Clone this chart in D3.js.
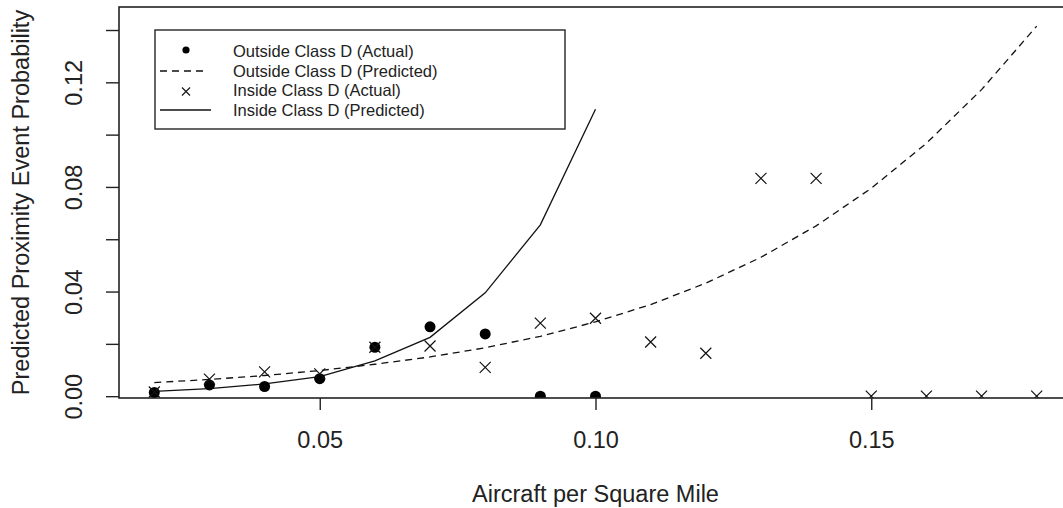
<!DOCTYPE html>
<html>
<head>
<meta charset="utf-8">
<script src="https://cdn.jsdelivr.net/npm/d3@7"></script>
<style>
  body { margin: 0; background: #fff; }
  svg { display: block; font-family: "Liberation Sans", Arial, sans-serif; }
</style>
</head>
<body>
<svg width="1063" height="508"></svg>
<script>
const svg = d3.select("svg");

// aircraft per square mile
const xOutside = [0.02, 0.03, 0.04, 0.05, 0.06, 0.07, 0.08, 0.09, 0.10];
const xInside = [0.02, 0.03, 0.04, 0.05, 0.06, 0.07, 0.08, 0.09, 0.10,
  0.11, 0.12, 0.13, 0.14, 0.15, 0.16, 0.17, 0.18];
const xOutsidePred = xInside;
const xInsidePred = xOutside;

const outsideActual = [0.0014, 0.0043, 0.0037, 0.0067, 0.0187, 0.0265, 0.0238, 0, 0];
const outsidePredicted = [0.0052, 0.0064, 0.0079, 0.0098, 0.0122, 0.0150, 0.0185, 0.0229,
  0.0284, 0.0350, 0.0432, 0.0531, 0.0651, 0.0795, 0.0967, 0.1172, 0.1415];
const insideActual = [0.0016, 0.0065, 0.0093, 0.0085, 0.0187, 0.0192, 0.0110, 0.0279,
  0.0298, 0.0207, 0.0164, 0.0833, 0.0833, 0, 0, 0, 0];
const insidePredicted = [0.0018, 0.0029, 0.0047, 0.0075, 0.0135, 0.0225, 0.0395, 0.0655, 0.1097];

const xTicks = [0.05, 0.10, 0.15];
const yTicks = [0, 0.02, 0.04, 0.06, 0.08, 0.10, 0.12, 0.14];
const yTickLabels = [0, 0.04, 0.08, 0.12];

const legendLabels = [
  "Outside Class D (Actual)",
  "Outside Class D (Predicted)",
  "Inside Class D (Actual)",
  "Inside Class D (Predicted)"
];

const box = { left: 119, right: 1072, top: 7, bottom: 398 };

const x = d3.scaleLinear().domain([0.0136, 0.1864]).range([box.left, box.right]);
const y = d3.scaleLinear().domain([-0.0007, 0.1488]).range([box.bottom, box.top]);

svg.append("defs").append("clipPath").attr("id", "plotclip")
  .append("rect")
  .attr("x", box.left).attr("y", box.top)
  .attr("width", box.right - box.left).attr("height", box.bottom - box.top);

const plot = svg.append("g").attr("clip-path", "url(#plotclip)");

// curves
const line = d3.line().x(d => x(d[0])).y(d => y(d[1]));

plot.append("path")
  .datum(d3.zip(xOutsidePred, outsidePredicted))
  .attr("d", line)
  .attr("fill", "none")
  .attr("stroke", "#111")
  .attr("stroke-width", 1.3)
  .attr("stroke-dasharray", "7,5");

plot.append("path")
  .datum(d3.zip(xInsidePred, insidePredicted))
  .attr("d", line)
  .attr("fill", "none")
  .attr("stroke", "#111")
  .attr("stroke-width", 1.3);

// points
plot.selectAll("circle.out")
  .data(d3.zip(xOutside, outsideActual))
  .enter()
  .append("circle")
  .attr("class", "out")
  .attr("cx", d => x(d[0]))
  .attr("cy", d => y(d[1]))
  .attr("r", 5.5)
  .attr("fill", "#000");

const cross = 5.5;
plot.selectAll("path.in")
  .data(d3.zip(xInside, insideActual))
  .enter()
  .append("path")
  .attr("class", "in")
  .attr("d", d => {
    const cx = x(d[0]), cy = y(d[1]);
    return `M${cx - cross},${cy - cross}L${cx + cross},${cy + cross}M${cx - cross},${cy + cross}L${cx + cross},${cy - cross}`;
  })
  .attr("stroke", "#111")
  .attr("stroke-width", 1.2)
  .attr("fill", "none");

// box
svg.append("rect")
  .attr("x", box.left).attr("y", box.top)
  .attr("width", box.right - box.left).attr("height", box.bottom - box.top)
  .attr("fill", "none")
  .attr("stroke", "#222")
  .attr("stroke-width", 1.6);

// axes
const xAxis = d3.axisBottom(x).tickValues(xTicks).tickSize(12).tickPadding(21)
  .tickFormat(d3.format(".2f"));
const gx = svg.append("g").attr("transform", `translate(0,${box.bottom})`).call(xAxis);
gx.select(".domain").remove();
gx.selectAll(".tick line").attr("stroke", "#222").attr("stroke-width", 1.4);
gx.selectAll(".tick text").attr("font-size", 23.5).attr("fill", "#222")
  .attr("font-family", "Liberation Sans, Arial, sans-serif");

const yAxis = d3.axisLeft(y).tickValues(yTicks).tickSize(13)
  .tickFormat(d => yTickLabels.includes(d) ? d3.format(".2f")(d) : "");
const gy = svg.append("g").attr("transform", `translate(${box.left},0)`).call(yAxis);
gy.select(".domain").remove();
gy.selectAll(".tick line").attr("stroke", "#222").attr("stroke-width", 1.4);
gy.selectAll(".tick text")
  .attr("font-size", 23.5).attr("fill", "#222")
  .attr("font-family", "Liberation Sans, Arial, sans-serif")
  .attr("x", 0).attr("dy", null)
  .attr("text-anchor", "middle")
  .attr("transform", "translate(-37,0) rotate(-90)");

// titles
svg.append("text")
  .attr("x", (box.left + box.right) / 2)
  .attr("y", 502)
  .attr("text-anchor", "middle")
  .attr("font-size", 23.5)
  .attr("fill", "#222")
  .text("Aircraft per Square Mile");

svg.append("text")
  .attr("transform", `translate(29,${(box.top + box.bottom) / 2}) rotate(-90)`)
  .attr("text-anchor", "middle")
  .attr("font-size", 23.5)
  .attr("fill", "#222")
  .text("Predicted Proximity Event Probability");

// legend
const legend = svg.append("g");
legend.append("rect")
  .attr("x", 155).attr("y", 30).attr("width", 410).attr("height", 99)
  .attr("fill", "#fff").attr("stroke", "#333").attr("stroke-width", 1.5);

const legendY = d3.scalePoint().domain(legendLabels).range([51.5, 110]);

legend.selectAll("text")
  .data(legendLabels)
  .enter()
  .append("text")
  .attr("x", 233)
  .attr("y", d => legendY(d))
  .attr("dy", "0.35em")
  .attr("font-size", 16.5)
  .attr("fill", "#222")
  .text(d => d);

legend.append("circle")
  .attr("cx", 186).attr("cy", legendY(legendLabels[0]) - 1.5).attr("r", 3.6).attr("fill", "#000");
legend.append("line")
  .attr("x1", 160).attr("x2", 207)
  .attr("y1", legendY(legendLabels[1])).attr("y2", legendY(legendLabels[1]))
  .attr("stroke", "#111").attr("stroke-width", 1.3).attr("stroke-dasharray", "7,5");
const ly = legendY(legendLabels[2]) + 1;
legend.append("path")
  .attr("d", `M182,${ly - 4}L190,${ly + 4}M182,${ly + 4}L190,${ly - 4}`)
  .attr("stroke", "#111").attr("stroke-width", 1.1);
legend.append("line")
  .attr("x1", 160).attr("x2", 211)
  .attr("y1", legendY(legendLabels[3])).attr("y2", legendY(legendLabels[3]))
  .attr("stroke", "#111").attr("stroke-width", 1.3);
</script>
</body>
</html>
